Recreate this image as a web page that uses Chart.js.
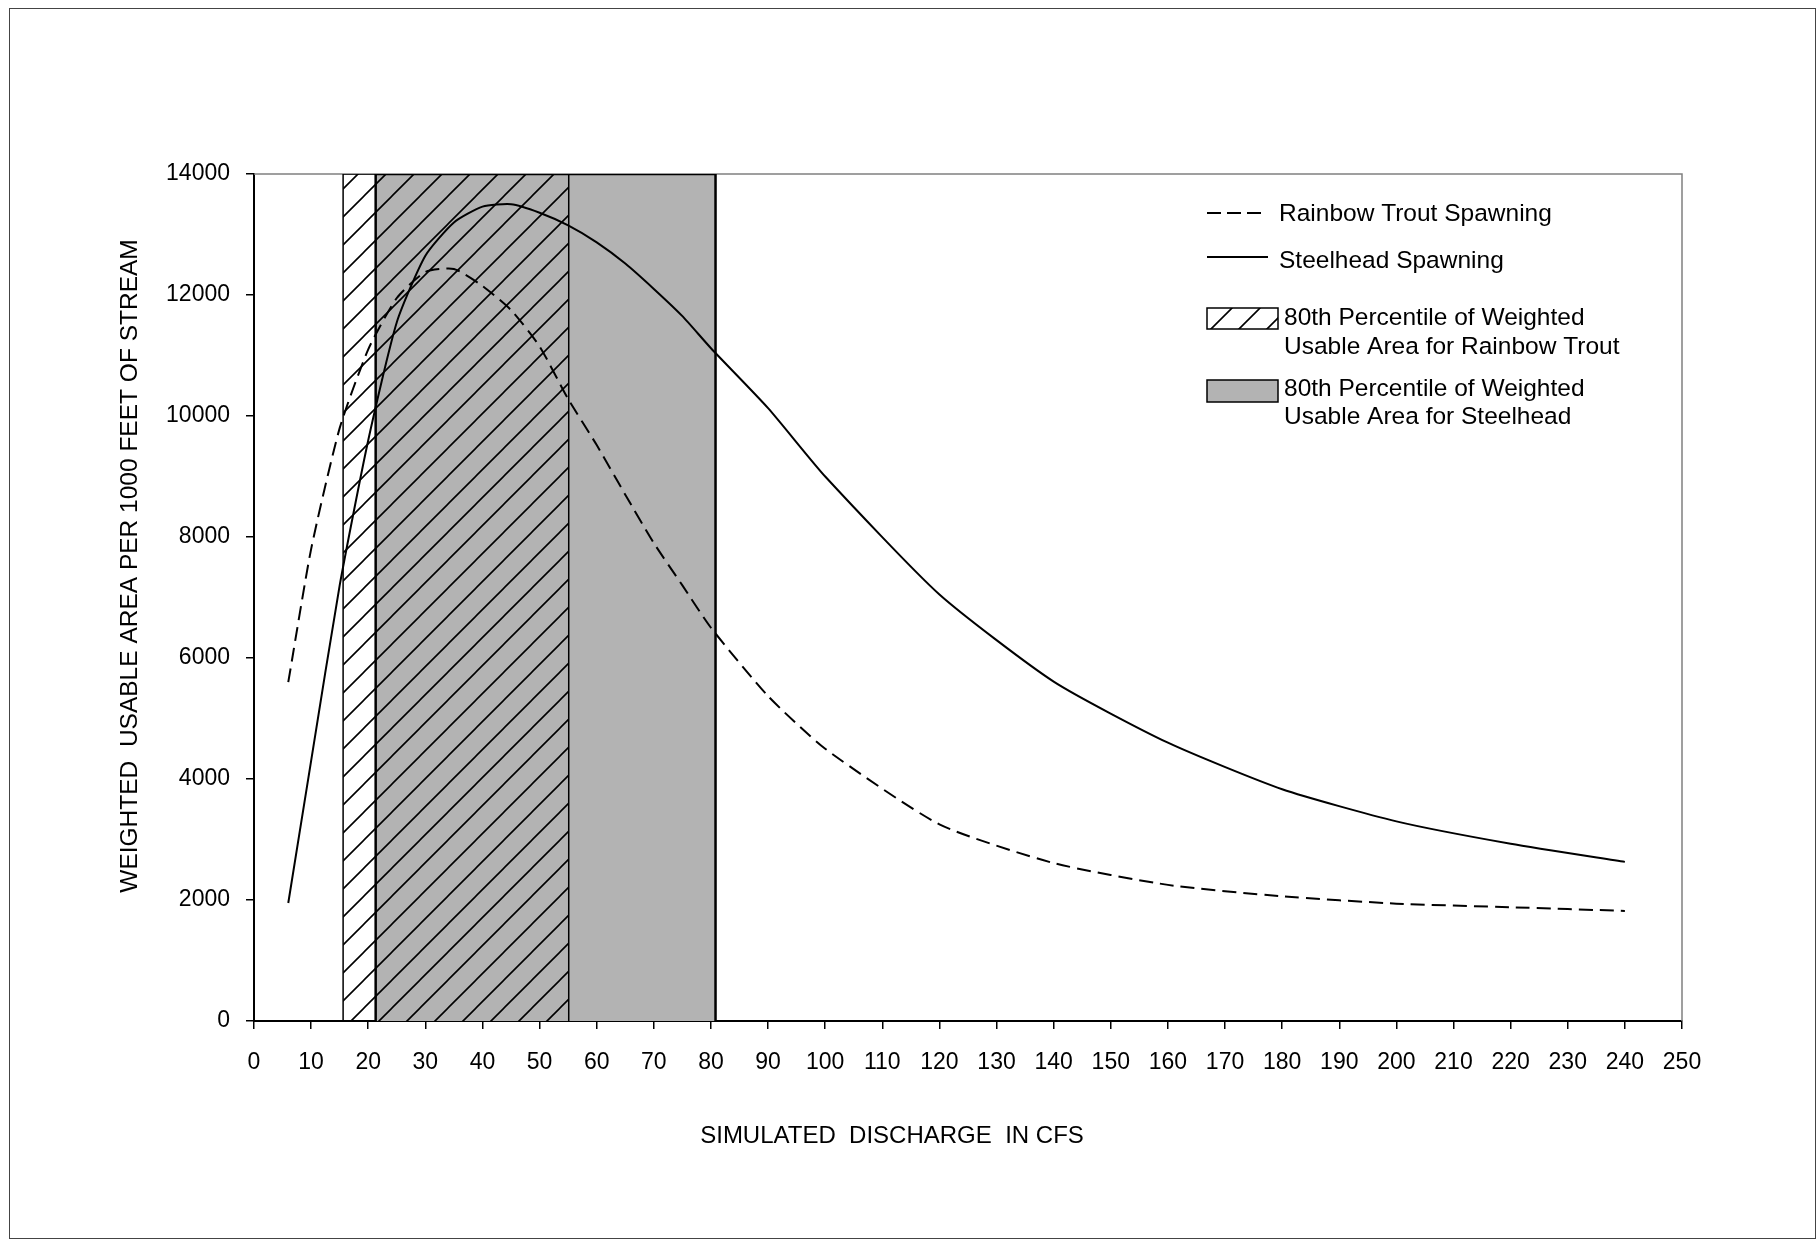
<!DOCTYPE html>
<html>
<head>
<meta charset="utf-8">
<script src="https://cdn.jsdelivr.net/npm/chart.js@4.4.1/dist/chart.umd.min.js"></script>
<style>
  html, body { margin: 0; padding: 0; background: #fff; }
  canvas { display: block; }
</style>
</head>
<body>
<canvas id="wua" width="1820" height="1244"></canvas>
<script>
// simulated discharge (cfs) where the curves were read
const discharge = [6, 10, 15, 20, 25, 30, 35, 40, 45, 50, 55, 60, 65, 70, 75, 80, 90, 100, 120, 140, 160, 180, 200, 220, 240];
// weighted usable area per 1000 ft of stream
const steelhead = [1950, 4300, 7200, 9600, 11550, 12650, 13200, 13460, 13500, 13360, 13150, 12870, 12520, 12100, 11650, 11120, 10130, 9000, 7050, 5610, 4600, 3830, 3300, 2930, 2630];
const rainbowTrout = [5600, 7800, 9800, 11100, 11950, 12380, 12430, 12150, 11750, 11150, 10280, 9520, 8700, 7900, 7200, 6500, 5370, 4500, 3250, 2610, 2250, 2060, 1940, 1880, 1820];

// 80th percentile ranges (cfs)
const rainbowBand = [15.6, 55.1];
const steelheadBand = [21.3, 80.8];
const bandTop = 14000;

const xTicks = { min: 0, max: 250, step: 10 };
const yTicks = { min: 0, max: 14000, step: 2000 };

const FONT = '"Liberation Sans", Arial, sans-serif';

function hatchPattern() {
    const size = 28;
    const c = document.createElement('canvas');
    c.width = size; c.height = size;
    const g = c.getContext('2d');
    g.strokeStyle = '#000';
    g.lineWidth = 1.6;
    g.beginPath();
    g.moveTo(0, size); g.lineTo(size, 0);
    g.moveTo(-size / 2, size / 2); g.lineTo(size / 2, -size / 2);
    g.moveTo(size / 2, size * 1.5); g.lineTo(size * 1.5, size / 2);
    g.stroke();
    return g.createPattern(c, 'repeat');
}

const canvas = document.getElementById('wua');
const hatch = hatchPattern();

function toPoints(xs, ys) {
    return xs.map((x, i) => ({ x: x, y: ys[i] }));
}

function bandPoints(band) {
    return [
        { x: band[0], y: 0 },
        { x: band[0], y: bandTop },
        { x: band[1], y: bandTop },
        { x: band[1], y: 0 }
    ];
}

const frame = {
    id: 'frame',
    beforeDraw(chart) {
        const ctx = chart.ctx;
        ctx.save();
        ctx.fillStyle = '#fff';
        ctx.fillRect(0, 0, chart.width, chart.height);
        ctx.restore();
    },
    beforeDatasetsDraw(chart) {
        const ctx = chart.ctx;
        const a = chart.chartArea;
        ctx.save();
        ctx.strokeStyle = '#808080';
        ctx.lineWidth = 1.5;
        ctx.beginPath();
        ctx.moveTo(a.left, a.top);
        ctx.lineTo(a.right, a.top);
        ctx.lineTo(a.right, a.bottom);
        ctx.stroke();
        ctx.restore();
    },
    afterDraw(chart) {
        const ctx = chart.ctx;
        ctx.save();
        // outer border
        ctx.strokeStyle = '#444';
        ctx.lineWidth = 1;
        ctx.strokeRect(9.5, 8.5, 1806, 1230);

        ctx.fillStyle = '#000';
        ctx.textBaseline = 'middle';

        // axis titles
        ctx.font = '24px ' + FONT;
        ctx.textAlign = 'center';
        ctx.fillText('SIMULATED  DISCHARGE  IN CFS', 892, 1136);
        ctx.save();
        ctx.translate(130, 566);
        ctx.rotate(-Math.PI / 2);
        ctx.font = '24.5px ' + FONT;
        ctx.fillText('WEIGHTED  USABLE AREA PER 1000 FEET OF STREAM', 0, 0);
        ctx.restore();

        // legend
        ctx.textAlign = 'left';
        ctx.font = '24.5px ' + FONT;
        ctx.strokeStyle = '#000';
        ctx.lineWidth = 2;

        ctx.setLineDash([14, 6]);
        ctx.beginPath();
        ctx.moveTo(1207, 213); ctx.lineTo(1263, 213);
        ctx.stroke();
        ctx.setLineDash([]);
        ctx.fillText('Rainbow Trout Spawning', 1279, 214);

        ctx.beginPath();
        ctx.moveTo(1207, 257); ctx.lineTo(1268, 257);
        ctx.stroke();
        ctx.fillText('Steelhead Spawning', 1279, 261);

        ctx.lineWidth = 1.5;
        ctx.fillStyle = hatch;
        ctx.fillRect(1207, 308, 71, 21);
        ctx.strokeRect(1207, 308, 71, 21);
        ctx.fillStyle = '#000';
        ctx.fillText('80th Percentile of Weighted', 1284, 318);
        ctx.fillText('Usable Area for Rainbow Trout', 1284, 347);

        ctx.fillStyle = '#b3b3b3';
        ctx.fillRect(1207, 380, 71, 22);
        ctx.strokeRect(1207, 380, 71, 22);
        ctx.fillStyle = '#000';
        ctx.fillText('80th Percentile of Weighted', 1284, 389);
        ctx.fillText('Usable Area for Steelhead', 1284, 417);
        ctx.restore();
    }
};

new Chart(canvas, {
    type: 'line',
    data: {
        datasets: [
            {
                label: 'Steelhead Spawning',
                data: toPoints(discharge, steelhead),
                borderColor: '#000',
                borderWidth: 2,
                pointRadius: 0,
                tension: 0.2,
                fill: false,
                order: 0
            },
            {
                label: 'Rainbow Trout Spawning',
                data: toPoints(discharge, rainbowTrout),
                borderColor: '#000',
                borderWidth: 2,
                borderDash: [14, 7],
                pointRadius: 0,
                tension: 0.2,
                fill: false,
                order: 1
            },
            {
                label: '80th Percentile Rainbow Trout',
                data: bandPoints(rainbowBand),
                borderColor: '#000',
                borderWidth: 1.5,
                backgroundColor: hatch,
                pointRadius: 0,
                tension: 0,
                fill: 'origin',
                order: 2
            },
            {
                label: '80th Percentile Steelhead',
                data: bandPoints(steelheadBand),
                borderColor: '#000',
                borderWidth: 2.5,
                backgroundColor: '#b3b3b3',
                pointRadius: 0,
                tension: 0,
                fill: 'origin',
                order: 3
            }
        ]
    },
    options: {
        responsive: false,
        animation: false,
        events: [],
        layout: { padding: { top: 174, right: 138, left: 0, bottom: 0 } },
        plugins: {
            legend: { display: false },
            tooltip: { enabled: false },
            title: { display: false }
        },
        scales: {
            x: {
                type: 'linear',
                min: xTicks.min,
                max: xTicks.max,
                afterFit(scale) { scale.height = 223; },
                border: { display: true, color: '#000', width: 2 },
                grid: { drawOnChartArea: false, drawTicks: true, tickLength: 8, color: '#000', lineWidth: 1.5 },
                ticks: {
                    stepSize: xTicks.step,
                    autoSkip: false,
                    maxRotation: 0,
                    padding: 20,
                    color: '#000',
                    font: { family: FONT, size: 23 },
                    callback: v => String(v)
                }
            },
            y: {
                min: yTicks.min,
                max: yTicks.max,
                afterFit(scale) { scale.width = 254; },
                border: { display: true, color: '#000', width: 2 },
                grid: { drawOnChartArea: false, drawTicks: true, tickLength: 8, color: '#000', lineWidth: 1.5 },
                ticks: {
                    stepSize: yTicks.step,
                    padding: 16,
                    color: '#000',
                    font: { family: FONT, size: 23 },
                    callback: v => String(v)
                }
            }
        }
    },
    plugins: [frame]
});
</script>
</body>
</html>
